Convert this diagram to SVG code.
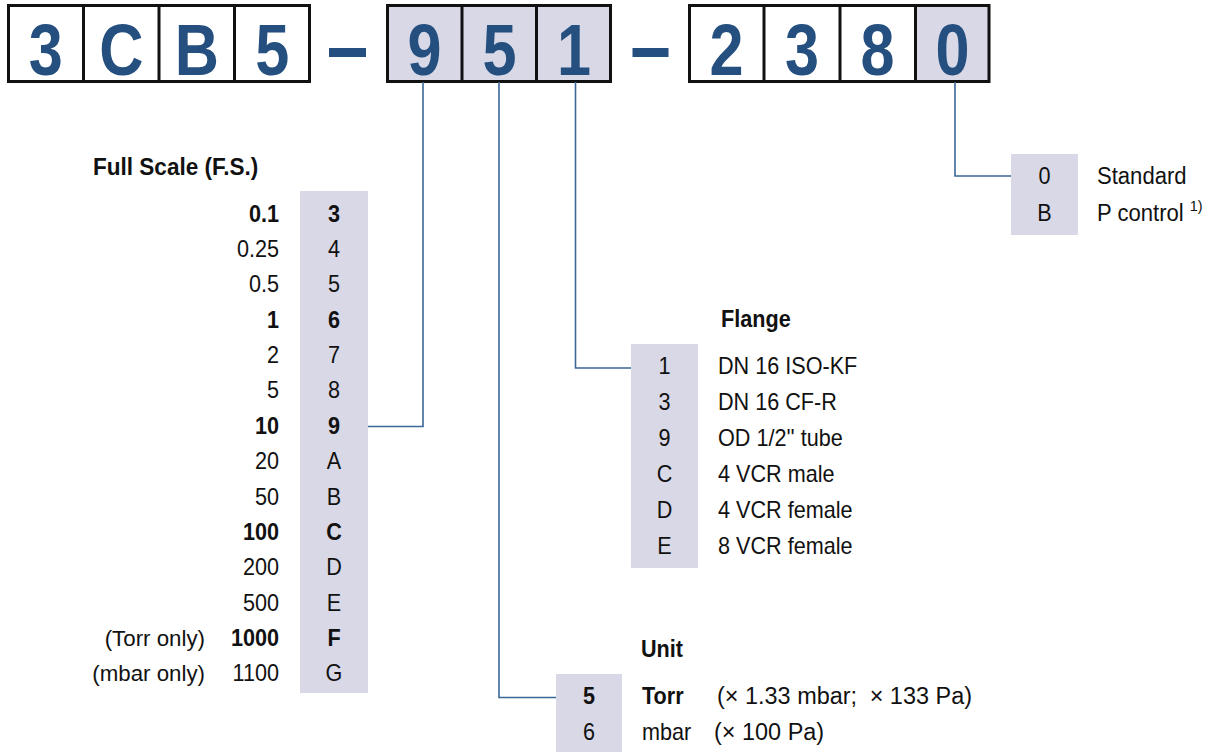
<svg xmlns="http://www.w3.org/2000/svg" width="1213" height="752" viewBox="0 0 1213 752">
<style>
text{font-family:"Liberation Sans",Arial,sans-serif;fill:#111;font-size:23px}
.b{font-weight:bold}
.e{text-anchor:end}
.m{text-anchor:middle}
.big{font-size:72px;font-weight:bold;fill:#244f7f;text-anchor:middle}
.sh{fill:#d9d8e6}
.cell{stroke:#111;stroke-width:3}
.con{fill:none;stroke:#3a6797;stroke-width:1.6}
.dash{fill:#244f7f}
.sup{font-size:15px}
</style>
<rect width="1213" height="752" fill="#fff"/>

<g id="code-group-1">
<rect class="cell" x="8.5" y="5.5" width="301" height="76" fill="#fff"/>
<line class="cell" x1="83.5" y1="5" x2="83.5" y2="82"/>
<line class="cell" x1="159" y1="5" x2="159" y2="82"/>
<line class="cell" x1="234.5" y1="5" x2="234.5" y2="82"/>
<text class="big" transform="translate(45.75 75) scale(.85 1)">3</text>
<text class="big" transform="translate(121.25 75) scale(.85 1)">C</text>
<text class="big" transform="translate(196.75 75) scale(.85 1)">B</text>
<text class="big" transform="translate(272.25 75) scale(.85 1)">5</text>
</g>
<rect id="dash-1" class="dash" x="329" y="48" width="37" height="9"/>
<g id="code-group-2">
<rect class="cell sh" x="387.5" y="5.5" width="223" height="76"/>
<line class="cell" x1="462" y1="5" x2="462" y2="82"/>
<line class="cell" x1="536.5" y1="5" x2="536.5" y2="82"/>
<text class="big" transform="translate(424.5 75) scale(.85 1)">9</text>
<text class="big" transform="translate(499.5 75) scale(.85 1)">5</text>
<text class="big" transform="translate(574 75) scale(.85 1)">1</text>
</g>
<rect id="dash-2" class="dash" x="632.5" y="48" width="36" height="9"/>
<g id="code-group-3">
<rect class="sh" x="915" y="5.5" width="74" height="76"/>
<rect class="cell" x="689.5" y="5.5" width="299.5" height="76" fill="none"/>
<line class="cell" x1="764" y1="5" x2="764" y2="82"/>
<line class="cell" x1="840" y1="5" x2="840" y2="82"/>
<line class="cell" x1="915.5" y1="5" x2="915.5" y2="82"/>
<text class="big" transform="translate(726.5 75) scale(.85 1)">2</text>
<text class="big" transform="translate(802 75) scale(.85 1)">3</text>
<text class="big" transform="translate(877.5 75) scale(.85 1)">8</text>
<text class="big" transform="translate(952.5 75) scale(.85 1)">0</text>
</g>

<g id="connectors">
<polyline class="con" points="423,82 423,426.5 368,426.5"/>
<polyline class="con" points="499,82 499,697.5 556,697.5"/>
<polyline class="con" points="575.5,82 575.5,368 631,368"/>
<polyline class="con" points="955,82 955,176 1011,176"/>
</g>

<g id="full-scale">
<text class="b" transform="translate(93 175) scale(.98 1)">Full Scale (F.S.)</text>
<rect class="sh" x="300" y="191" width="68" height="502"/>
<text class="b e" transform="translate(279 221.5) scale(.94 1)">0.1</text>
<text class="e" transform="translate(279 256.9) scale(.94 1)">0.25</text>
<text class="e" transform="translate(279 292.3) scale(.94 1)">0.5</text>
<text class="b e" transform="translate(279 327.6) scale(.94 1)">1</text>
<text class="e" transform="translate(279 363) scale(.94 1)">2</text>
<text class="e" transform="translate(279 398.4) scale(.94 1)">5</text>
<text class="b e" transform="translate(279 433.8) scale(.94 1)">10</text>
<text class="e" transform="translate(279 469.2) scale(.94 1)">20</text>
<text class="e" transform="translate(279 504.5) scale(.94 1)">50</text>
<text class="b e" transform="translate(279 539.9) scale(.94 1)">100</text>
<text class="e" transform="translate(279 575.3) scale(.94 1)">200</text>
<text class="e" transform="translate(279 610.7) scale(.94 1)">500</text>
<text class="b e" transform="translate(279 646.1) scale(.94 1)">1000</text>
<text class="e" transform="translate(279 681.4) scale(.94 1)">1100</text>
<text class="e" transform="translate(205 646.1) scale(.97 1)">(Torr only)</text>
<text class="e" transform="translate(205 681.4) scale(.97 1)">(mbar only)</text>
<text class="b m" transform="translate(334 221.5) scale(.94 1)">3</text>
<text class="m" transform="translate(334 256.9) scale(.94 1)">4</text>
<text class="m" transform="translate(334 292.3) scale(.94 1)">5</text>
<text class="b m" transform="translate(334 327.6) scale(.94 1)">6</text>
<text class="m" transform="translate(334 363) scale(.94 1)">7</text>
<text class="m" transform="translate(334 398.4) scale(.94 1)">8</text>
<text class="b m" transform="translate(334 433.8) scale(.94 1)">9</text>
<text class="m" transform="translate(334 469.2) scale(.94 1)">A</text>
<text class="m" transform="translate(334 504.5) scale(.94 1)">B</text>
<text class="b m" transform="translate(334 539.9) scale(.94 1)">C</text>
<text class="m" transform="translate(334 575.3) scale(.94 1)">D</text>
<text class="m" transform="translate(334 610.7) scale(.94 1)">E</text>
<text class="b m" transform="translate(334 646.1) scale(.94 1)">F</text>
<text class="m" transform="translate(334 681.4) scale(.94 1)">G</text>
</g>

<g id="control">
<rect class="sh" x="1011" y="154" width="67" height="81"/>
<text class="m" transform="translate(1044.5 183.5) scale(.94 1)">0</text>
<text class="m" transform="translate(1044.5 220.5) scale(.94 1)">B</text>
<text transform="translate(1097 183.5) scale(.96 1)">Standard</text>
<text transform="translate(1097 220.5) scale(.96 1)">P control <tspan class="sup" dy="-10">1)</tspan></text>
</g>

<g id="flange">
<text class="b" transform="translate(721 327) scale(.94 1)">Flange</text>
<rect class="sh" x="631" y="344" width="67" height="224"/>
<text class="m" transform="translate(664.5 373.5) scale(.94 1)">1</text>
<text class="m" transform="translate(664.5 409.5) scale(.94 1)">3</text>
<text class="m" transform="translate(664.5 445.5) scale(.94 1)">9</text>
<text class="m" transform="translate(664.5 481.5) scale(.94 1)">C</text>
<text class="m" transform="translate(664.5 517.5) scale(.94 1)">D</text>
<text class="m" transform="translate(664.5 553.5) scale(.94 1)">E</text>
<text transform="translate(718 373.5) scale(.94 1)">DN 16 ISO-KF</text>
<text transform="translate(718 409.5) scale(.94 1)">DN 16 CF-R</text>
<text transform="translate(718 445.5) scale(.94 1)">OD 1/2'' tube</text>
<text transform="translate(718 481.5) scale(.94 1)">4 VCR male</text>
<text transform="translate(718 517.5) scale(.94 1)">4 VCR female</text>
<text transform="translate(718 553.5) scale(.94 1)">8 VCR female</text>
</g>

<g id="unit">
<text class="b" transform="translate(641 657) scale(.94 1)">Unit</text>
<rect class="sh" x="556" y="674" width="66" height="78"/>
<text class="b m" transform="translate(589 703.5) scale(.94 1)">5</text>
<text class="m" transform="translate(589 739.5) scale(.94 1)">6</text>
<text class="b" transform="translate(642 703.5) scale(.94 1)">Torr</text>
<text transform="translate(717 703.5) scale(1.02 1)">(× 1.33 mbar;</text>
<text class="e" transform="translate(972 703.5) scale(1.02 1)">× 133 Pa)</text>
<text transform="translate(642 739.5) scale(.94 1)">mbar</text>
<text transform="translate(714 739.5) scale(1.02 1)">(× 100 Pa)</text>
</g>
</svg>
